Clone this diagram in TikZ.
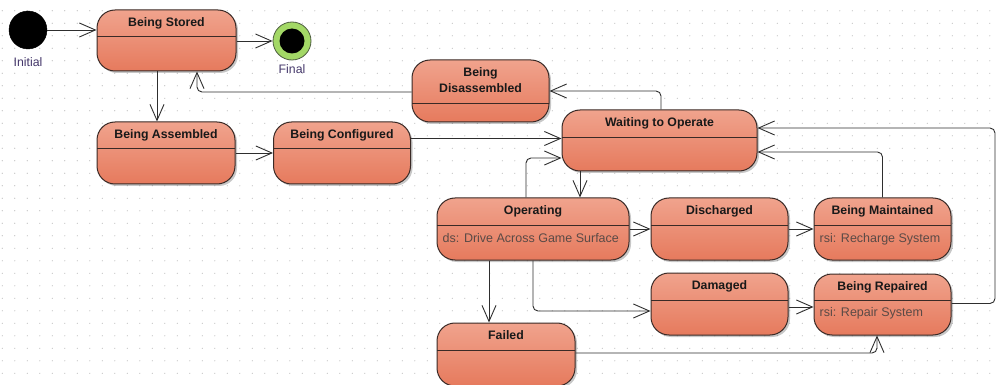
\documentclass[tikz,border=0pt]{standalone}
\usepackage{fontspec}
\setmainfont{Liberation Sans}
\usetikzlibrary{arrows.meta,shadows}
\definecolor{boxtop}{HTML}{F0A38D}
\definecolor{boxbot}{HTML}{E67A5D}
\definecolor{boxline}{HTML}{3A2A26}
\definecolor{conn}{HTML}{2E2E2E}
\definecolor{acttext}{HTML}{5A4A46}
\definecolor{pseudolab}{HTML}{45386B}
\definecolor{finalgreen}{HTML}{A3D866}
\definecolor{finalline}{HTML}{4E5E40}
\definecolor{dotcol}{HTML}{BDBDBD}
\begin{document}
\begin{tikzpicture}[x=1pt,y=-1pt,
  statebox/.style={rectangle, rounded corners=18pt, draw=boxline, line width=1pt,
    top color=boxtop, bottom color=boxbot, inner sep=0pt,
    drop shadow={shadow xshift=2pt, shadow yshift=-2pt, opacity=0.22, fill=black}},
  divider/.style={path picture={\draw[boxline, line width=0.9pt]
    ([yshift=-#1]path picture bounding box.north west) --
    ([yshift=-#1]path picture bounding box.north east);}},
  titlelab/.style={anchor=center, yshift=-13.5pt, font=\fontsize{12.3}{16}\selectfont\bfseries,
    text=black!90, align=center, inner sep=0pt},
  onelinetitle/.style={titlelab, text height=9pt, text depth=2.6pt},
  actlab/.style={anchor=west, xshift=6pt, yshift=-41.5pt, font=\fontsize{12.5}{14}\selectfont,
    text=acttext, inner sep=0pt, text height=9pt, text depth=2.6pt},
  pseudolabel/.style={anchor=center, font=\fontsize{12.3}{14}\selectfont, text=pseudolab, inner sep=0pt},
  arr/.style={draw=conn, line width=0.9pt, rounded corners=5pt,
    -{Straight Barb[length=16pt,width=14pt,line width=0.9pt]}}
]
\useasboundingbox (0,0) rectangle (997,385);
\fill[white] (0,0) rectangle (997,385);
\foreach \i in {0,...,80}{\foreach \j in {0,...,30}{
  \fill[dotcol] (2.3+12.5*\i,10.8+12.5*\j) circle (0.6pt);}}

% pseudo states
\node[circle, fill=black, draw=black, minimum size=38pt, inner sep=0pt,
  label={[pseudolabel, yshift=-13pt]south:Initial}] (init) at (28,30) {};
\node[circle, fill=finalgreen, draw=finalline, line width=0.8pt, minimum size=38pt, inner sep=0pt,
  path picture={\fill[black] (path picture bounding box.center) circle (12.5pt);},
  label={[pseudolabel, yshift=-9pt]south:Final}] (final) at (292,41) {};

% states
\node[statebox, divider=26.5pt, minimum width=139pt, minimum height=61pt,
  label={[onelinetitle]north:Being Stored}] (stored) at (166.5,40.5) {};
\node[statebox, divider=26.5pt, minimum width=138pt, minimum height=62pt,
  label={[onelinetitle]north:Being Assembled}] (assembled) at (166,153) {};
\node[statebox, divider=26.5pt, minimum width=137pt, minimum height=62pt,
  label={[onelinetitle]north:Being Configured}] (configured) at (342,153) {};
\node[statebox, divider=43pt, minimum width=137pt, minimum height=62pt,
  label={[titlelab, yshift=-7.5pt]north:Being\\Disassembled}] (disassembled) at (480.5,91) {};
\node[statebox, divider=27pt, minimum width=195pt, minimum height=61pt,
  label={[onelinetitle]north:Waiting to Operate}] (waiting) at (659.5,140.5) {};
\node[statebox, divider=27pt, minimum width=192pt, minimum height=62pt,
  label={[onelinetitle]north:Operating},
  label={[actlab]north west:{ds: Drive Across Game Surface}}] (operating) at (533,229) {};
\node[statebox, divider=27pt, minimum width=137pt, minimum height=62pt,
  label={[onelinetitle]north:Discharged}] (discharged) at (719.5,229) {};
\node[statebox, divider=27pt, minimum width=137pt, minimum height=62pt,
  label={[onelinetitle]north:Being Maintained},
  label={[actlab]north west:{rsi: Recharge System}}] (maintained) at (882.5,229) {};
\node[statebox, divider=27pt, minimum width=137pt, minimum height=62pt,
  label={[onelinetitle]north:Damaged}] (damaged) at (719.5,304) {};
\node[statebox, divider=26.5pt, minimum width=137pt, minimum height=61pt,
  label={[onelinetitle]north:Being Repaired},
  label={[actlab, yshift=2pt]north west:{rsi: Repair System}}] (repaired) at (882.5,304.5) {};
\node[statebox, divider=27pt, minimum width=138pt, minimum height=63pt,
  label={[onelinetitle]north:Failed}] (failed) at (506,354.5) {};

\coordinate (loopcorner) at (995,128);

% transitions
\draw[arr] (init.east) -- (init.east -| stored.west);
\draw[arr] (final -| stored.east) -- (final.west);
\draw[arr] ([xshift=-9.5pt]stored.south) -- ([xshift=-9.5pt]stored.south |- assembled.north);
\draw[arr] (assembled.east) -- (configured.west);
\draw[arr] ([yshift=14.5pt]configured.east) -- ([yshift=14.5pt]configured.east -| waiting.west);
\draw[arr] ([xshift=1.5pt]waiting.north) |- (disassembled.east);
\draw[arr] ([yshift=-1pt]disassembled.west) -| ([xshift=30.5pt]stored.south);
\draw[arr] ([xshift=-79.5pt]waiting.south) -- ([xshift=-79.5pt]waiting.south |- operating.north);
\draw[arr] ([xshift=-7pt]operating.north) |- ([yshift=-17.5pt]waiting.west);
\draw[arr] (operating.east) -- (discharged.west);
\draw[arr] (discharged.east) -- (maintained.west);
\draw[arr] (maintained.north) |- ([yshift=-11.5pt]waiting.east);
\draw[arr] ([yshift=1pt]repaired.east) -| (loopcorner) -- (loopcorner -| waiting.east);
\draw[arr] ([xshift=-44pt]operating.south) -- ([xshift=-44pt]operating.south |- failed.north);
\draw[arr] (operating.south) |- ([yshift=-7pt]damaged.west);
\draw[arr] ([yshift=-3pt]damaged.east) -- ([yshift=-3pt]damaged.east -| repaired.west);
\draw[arr] ([yshift=1.5pt]failed.east) -| ([xshift=-5.5pt]repaired.south);
\end{tikzpicture}
\end{document}
